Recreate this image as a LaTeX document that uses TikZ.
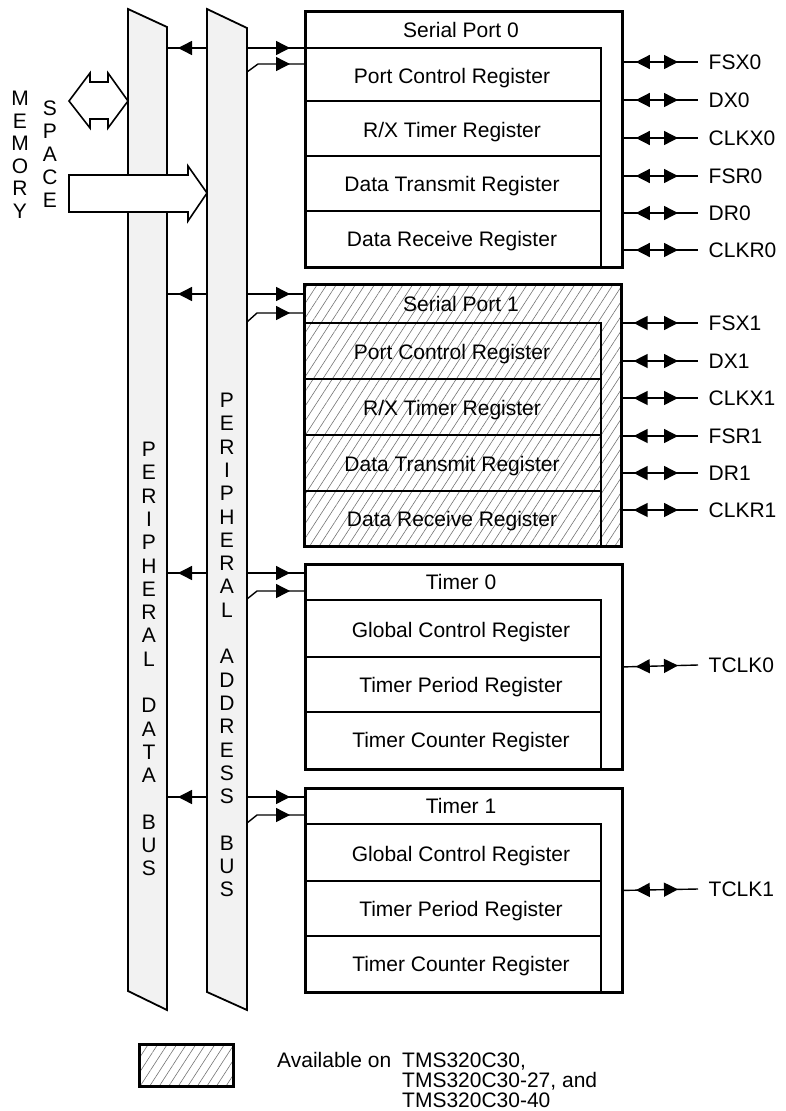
\documentclass[tikz,border=0pt]{standalone}
\usepackage{fontspec}
\setmainfont{Liberation Sans}
\usetikzlibrary{arrows.meta,decorations.markings,patterns.meta}

\newcommand\headtip{Triangle[length=14pt,width=14pt]}

\tikzset{
  bus/.style={draw, line width=1.8pt, fill=black!5, line join=miter},
  unit/.style={draw, line width=2.8pt, inner sep=0pt, anchor=north west, minimum width=317pt},
  divider/.style={draw, line width=1.2pt},
  hatch/.style={pattern={Lines[angle=57,distance=8pt,line width=0.6pt]}, pattern color=black!55},
  txt/.style={font=\fontsize{21}{24}\selectfont, inner sep=0pt, text height=15pt, text depth=0pt},
  wire/.style={line width=1.4pt},
  bigarrow/.style={draw, line width=1.6pt, fill=white, line join=miter},
  % data line: head into the data bus and head into the unit
  datalink/.style={wire, postaction={decorate}, decoration={markings,
      mark=at position 11pt with {\arrowreversed{\headtip}},
      mark=at position -14pt with {\arrow{\headtip}}}},
  % address line: head into the unit
  addrlink/.style={wire, postaction={decorate}, decoration={markings,
      mark=at position -14pt with {\arrow{\headtip}}}},
  % external pin: two-way
  pinlink/.style={wire, postaction={decorate}, decoration={markings,
      mark=at position 12pt with {\arrowreversed{\headtip}},
      mark=at position -20pt with {\arrow{\headtip}}}},
}

\begin{document}
\begin{tikzpicture}[x=1pt,y=-1pt]
\useasboundingbox (0,0) rectangle (786,1111);

% ---------------- peripheral data bus ----------------
\path[bus] (128,9) -- (167,27) -- (167,1010) -- (128,991) -- cycle;

% data lines run from the data bus to each unit (behind the address bus)
\coordinate (sp0d) at (167,48);
\coordinate (sp1d) at (167,294);
\coordinate (tm0d) at (167,573);
\coordinate (tm1d) at (167,797);

% ---------------- units (nodes) ----------------
\node[unit, minimum height=256pt] (sp0) at (304,10) {};
\node[unit, hatch, minimum height=262pt] (sp1) at (304,284) {};
\node[unit, minimum height=205pt] (tm0) at (304,563) {};
\node[unit, minimum height=204pt] (tm1) at (304,787) {};

\draw[datalink] (sp0d) -- (sp0d -| sp0.west);
\draw[datalink] (sp1d) -- (sp1d -| sp1.west);
\draw[datalink] (tm0d) -- (tm0d -| tm0.west);
\draw[datalink] (tm1d) -- (tm1d -| tm1.west);

% ---------------- peripheral address bus ----------------
\path[bus] (207,9) -- (247,28) -- (247,1010) -- (207,992) -- cycle;

\coordinate (sp0a) at (247,72);
\coordinate (sp1a) at (247,322);
\coordinate (tm0a) at (247,599);
\coordinate (tm1a) at (247,823);
\draw[addrlink] (sp0a) -- ++(11,-8) coordinate (sp0k) -- (sp0k -| sp0.west);
\draw[addrlink] (sp1a) -- ++(10,-9) coordinate (sp1k) -- (sp1k -| sp1.west);
\draw[addrlink] (tm0a) -- ++(10,-8) coordinate (tm0k) -- (tm0k -| tm0.west);
\draw[addrlink] (tm1a) -- ++(10,-8) coordinate (tm1k) -- (tm1k -| tm1.west);

% ---------------- memory space arrows ----------------
\path[bigarrow] (69,101) -- (90,73) -- (90,82) -- (108,82) -- (108,73) -- (128,101)
  -- (108,128) -- (108,119) -- (90,119) -- (90,128) -- cycle;
\path[bigarrow] (69,175) -- (188,175) -- (188,166) -- (207,193) -- (188,221)
  -- (188,212) -- (69,212) -- cycle;

% vertical lettering
\foreach \ch [count=\k from 0] in {M,E,M,O,R,Y}
  \node[txt] (mem\k) at (20,{98+22.5*\k}) {\ch};
\foreach \ch [count=\k from 0] in {S,P,A,C,E}
  \node[txt] (spc\k) at (50,{108+23*\k}) {\ch};
\foreach \ch [count=\k from 0] in {P,E,R,I,P,H,E,R,A,L,{},D,A,T,A,{},B,U,S}
  \node[txt] (pdb\k) at (149,{449+23.3*\k}) {\ch};
\foreach \ch [count=\k from 0] in {P,E,R,I,P,H,E,R,A,L,{},A,D,D,R,E,S,S,{},B,U,S}
  \node[txt] (pab\k) at (227,{400+23.3*\k}) {\ch};

% ---------------- register rows ----------------
% Serial Port 0
\draw[divider] (304,48) -- (601,48) -- (601,266);
\foreach \y in {101,156,211} \draw[divider] (304,\y) -- (601,\y);
\node[txt] (sp0h) at (461,30) {Serial Port 0};
\node[txt] (sp0r1) at (452,76) {Port Control Register};
\node[txt] (sp0r2) at (452,129.5) {R/X Timer Register};
\node[txt] (sp0r3) at (452,184) {Data Transmit Register};
\node[txt] (sp0r4) at (452,239) {Data Receive Register};

% Serial Port 1
\draw[divider] (304,323) -- (601,323) -- (601,546);
\foreach \y in {379,435,491} \draw[divider] (304,\y) -- (601,\y);
\node[txt] (sp1h) at (461,304) {Serial Port 1};
\node[txt] (sp1r1) at (452,352) {Port Control Register};
\node[txt] (sp1r2) at (452,408) {R/X Timer Register};
\node[txt] (sp1r3) at (452,464) {Data Transmit Register};
\node[txt] (sp1r4) at (452,519) {Data Receive Register};

% Timer 0
\draw[divider] (304,600) -- (601,600) -- (601,768);
\foreach \y in {657,712} \draw[divider] (304,\y) -- (601,\y);
\node[txt] (tm0h) at (461,582) {Timer 0};
\node[txt] (tm0r1) at (461,629.5) {Global Control Register};
\node[txt] (tm0r2) at (461,684.5) {Timer Period Register};
\node[txt] (tm0r3) at (461,740) {Timer Counter Register};

% Timer 1
\draw[divider] (304,824) -- (601,824) -- (601,991);
\foreach \y in {881,936} \draw[divider] (304,\y) -- (601,\y);
\node[txt] (tm1h) at (461,806) {Timer 1};
\node[txt] (tm1r1) at (461,853.5) {Global Control Register};
\node[txt] (tm1r2) at (461,908.5) {Timer Period Register};
\node[txt] (tm1r3) at (461,964) {Timer Counter Register};

% ---------------- external pins ----------------
\foreach \lab/\y in {FSX0/62, DX0/100, CLKX0/138, FSR0/176, DR0/213, CLKR0/250}
  \draw[pinlink] (sp0.east |- 0,\y) -- (698,\y) node[txt, anchor=west, xshift=10pt] (pin\lab) {\lab};
\foreach \lab/\y in {FSX1/323, DX1/361, CLKX1/398, FSR1/436, DR1/473, CLKR1/510}
  \draw[pinlink] (sp1.east |- 0,\y) -- (698,\y) node[txt, anchor=west, xshift=10pt] (pin\lab) {\lab};
\draw[pinlink] (tm0.east) -- (698,665) node[txt, anchor=west, xshift=10pt] (pinTCLK0) {TCLK0};
\draw[pinlink] (tm1.east) -- (698,889) node[txt, anchor=west, xshift=10pt] (pinTCLK1) {TCLK1};

% ---------------- key ----------------
\node[unit, hatch, minimum width=94pt, minimum height=42pt] (key) at (138,1043) {};
\node[txt, anchor=west] (keytext) at (277,1060) {Available on};
\node[txt, anchor=west] (dev1) at (402,1060) {TMS320C30,};
\node[txt, anchor=west] (dev2) at (402,1080) {TMS320C30-27, and};
\node[txt, anchor=west] (dev3) at (402,1099.5) {TMS320C30-40};
\end{tikzpicture}
\end{document}
